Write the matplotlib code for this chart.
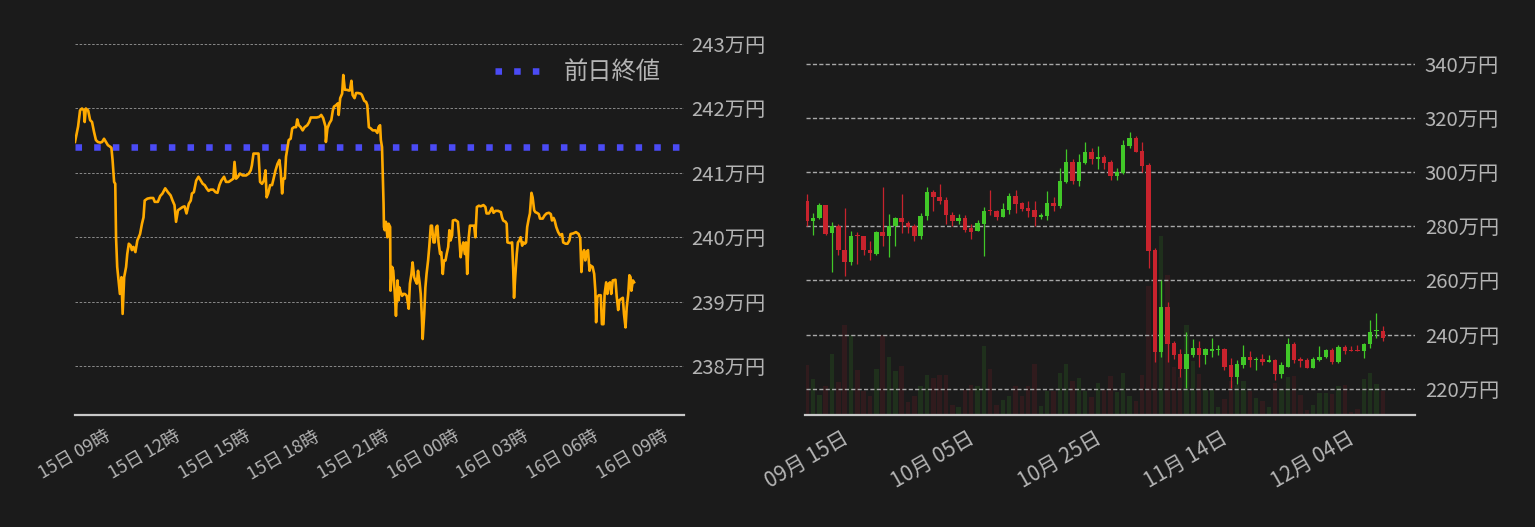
import matplotlib
matplotlib.use("Agg")
import matplotlib.pyplot as plt
import matplotlib.dates as mdates
from matplotlib.ticker import FuncFormatter, MultipleLocator, FixedLocator
import pandas as pd
import numpy as np

# ---------------- data ----------------
intraday_start = "2022-12-15 09:00"
intraday_minutes = [
    0, 8, 13, 18, 23, 25, 28, 34, 39, 44, 49, 54, 59, 65, 70, 75, 80, 85, 90, 94,
    97, 101, 104, 106, 109, 113, 116, 120, 123, 127, 132, 135, 139, 144, 147, 151, 156, 161, 168, 173,
    177, 180, 187, 195, 202, 206, 214, 220, 226, 233, 240, 247, 252, 257, 261, 266, 271, 278, 283, 288,
    294, 299, 302, 307, 313, 319, 325, 330, 335, 340, 345, 350, 357, 363, 368, 373, 378, 385, 390, 397,
    402, 409, 412, 416, 421, 426, 433, 442, 449, 454, 457, 461, 468, 474, 478, 483, 488, 492, 495, 499,
    504, 509, 514, 518, 523, 528, 531, 535, 538, 542, 545, 549, 552, 557, 561, 566, 571, 574, 578, 583,
    588, 593, 600, 605, 609, 616, 624, 631, 636, 641, 647, 648, 652, 657, 662, 666, 669, 674, 679, 681,
    685, 690, 693, 697, 702, 707, 710, 714, 717, 722, 726, 731, 738,
    741, 747, 752, 755, 759, 764, 769, 776, 781, 784, 788, 790, 793, 797, 798, 800, 803, 807, 810, 814,
    815, 819, 822, 826, 829, 833, 836, 838, 841, 845, 848, 852, 857, 862, 865, 869, 872, 876, 879, 883,
    886, 890, 893, 896, 898, 902, 905, 908, 912, 915, 919, 922, 926, 929, 933, 936, 939, 943, 946, 950,
    953, 957, 960, 964, 967, 970, 974, 976, 982, 989, 993, 996, 1000, 1003, 1007, 1010, 1013, 1017, 1020, 1026,
    1031, 1034, 1038, 1043, 1048, 1055, 1060, 1063, 1069, 1074, 1077, 1081, 1086, 1093, 1100, 1103, 1106, 1112, 1115, 1117,
    1124, 1129, 1132, 1134, 1137, 1141, 1144, 1148, 1151, 1155, 1158, 1162, 1165, 1168, 1172, 1175, 1179, 1182, 1186, 1189,
    1193, 1198, 1201, 1208, 1213, 1218, 1224, 1229, 1232, 1236, 1239, 1243, 1248, 1253, 1258, 1261, 1267, 1272, 1277, 1280,
    1287, 1294, 1301, 1305, 1308, 1311, 1315, 1318, 1322, 1325, 1329, 1332, 1337, 1341, 1344, 1346, 1349, 1353, 1358, 1361,
    1365, 1368, 1372, 1375, 1379, 1382, 1385, 1389, 1396, 1399, 1403, 1406, 1410, 1415, 1418, 1422, 1425, 1429, 1432, 1435,
    1437, 1441, 1444,
]
intraday_price = [
    241.48, 241.72, 241.97, 242.00, 241.97, 241.79, 242.00, 241.97, 241.82, 241.79, 241.64, 241.51, 241.48, 241.47, 241.48, 241.53, 241.48, 241.43, 241.41, 241.39,
    241.20, 240.86, 240.83, 240.00, 239.54, 239.30, 239.12, 239.38, 238.81, 239.38, 239.54, 239.74, 239.90, 239.87, 239.80, 239.85, 239.77, 239.95, 240.05, 240.21,
    240.31, 240.57, 240.60, 240.61, 240.61, 240.55, 240.55, 240.64, 240.68, 240.76, 240.70, 240.65, 240.57, 240.50, 240.24, 240.42, 240.44, 240.47, 240.48, 240.37,
    240.52, 240.57, 240.68, 240.70, 240.88, 240.94, 240.88, 240.83, 240.81, 240.76, 240.72, 240.74, 240.74, 240.70, 240.69, 240.81, 240.88, 240.94, 240.86, 240.86,
    240.88, 240.91, 241.17, 240.91, 240.94, 240.99, 240.96, 240.96, 240.99, 241.04, 241.12, 241.30, 241.30, 241.30, 240.86, 240.83, 240.88, 241.04, 240.62, 240.68,
    240.81, 240.81, 240.94, 241.04, 241.14, 241.20, 241.04, 240.68, 240.91, 240.91, 241.25, 241.40, 241.51, 241.53, 241.69, 241.71, 241.71, 241.83, 241.74, 241.71,
    241.66, 241.71, 241.74, 241.79, 241.86, 241.86, 241.86, 241.87, 241.90, 241.85, 241.72, 241.48, 241.69, 241.77, 241.82, 241.97, 242.03, 242.05, 242.08, 241.90,
    242.16, 242.23, 242.52, 242.29, 242.29, 242.28, 242.28, 242.43, 242.21, 242.16, 242.24, 242.24, 242.23,
    242.21, 242.12, 242.10, 242.05, 241.71, 241.69, 241.66, 241.66, 241.62, 241.71, 241.74, 241.51, 241.40, 240.52, 240.16, 240.11, 240.24, 240.00, 240.21, 240.16,
    239.17, 239.54, 239.48, 239.12, 238.78, 239.33, 239.02, 239.22, 239.15, 239.09, 239.12, 239.12, 239.09, 238.89, 239.28, 239.43, 239.61, 239.38, 239.33, 239.28,
    239.48, 239.30, 239.12, 238.76, 238.42, 238.81, 239.22, 239.43, 239.64, 239.85, 240.18, 240.18, 239.92, 239.92, 240.16, 240.18, 239.92, 239.74, 239.77, 239.43,
    239.64, 239.64, 239.74, 239.85, 240.11, 239.95, 240.03, 240.26, 240.27, 240.24, 239.95, 239.69, 239.85, 239.92, 239.74, 239.92, 239.43, 240.00, 240.18, 240.18,
    240.18, 240.00, 240.47, 240.49, 240.48, 240.50, 240.47, 240.37, 240.37, 240.42, 240.46, 240.38, 240.41, 240.41, 240.39, 240.31, 240.26, 240.24, 240.21, 239.92,
    239.91, 239.92, 239.48, 239.06, 239.38, 239.74, 239.92, 239.95, 240.00, 239.87, 239.92, 239.90, 239.92, 240.16, 240.29, 240.37, 240.69, 240.62, 240.42, 240.39,
    240.38, 240.36, 240.29, 240.29, 240.34, 240.37, 240.38, 240.36, 240.26, 240.30, 240.26, 240.16, 240.08, 240.03, 240.05, 239.92, 239.90, 239.90, 239.95, 240.05,
    240.06, 240.08, 240.05, 239.98, 239.46, 239.74, 239.80, 239.64, 239.77, 239.80, 239.48, 239.56, 239.54, 239.43, 239.17, 238.68, 239.07, 239.10, 239.10, 238.65,
    238.65, 239.12, 239.30, 239.12, 239.28, 239.30, 239.12, 239.33, 239.34, 239.09, 238.87, 239.02, 239.04, 239.06, 238.81, 238.60, 238.91, 239.12, 239.41, 239.38,
    239.17, 239.33, 239.30,
]
prev_close = 241.4
legend_label = "前日終値"

daily_start = "2022-09-15"
opens = [
    289.43, 282.05, 282.92, 287.95, 277.38, 279.97, 271.36, 266.69, 276.53, 276.53,
    271.36, 269.89, 278.00, 276.28, 280.09, 283.16, 281.32, 280.09, 276.28, 283.65,
    292.75, 290.90, 289.80, 284.27, 282.05, 283.16, 279.23, 278.37, 280.95, 285.74,
    285.74, 283.53, 286.10, 291.27, 288.70, 286.85, 286.10, 283.53, 283.90, 288.70,
    287.60, 296.40, 303.81, 296.80, 303.44, 307.50, 304.90, 305.65, 303.81, 298.65,
    299.75, 309.70, 312.66, 307.86, 302.70, 271.36, 233.40, 250.35, 237.07, 232.65,
    227.12, 232.28, 234.87, 232.28, 233.76, 234.13, 234.50, 228.60, 224.50, 228.60,
    231.55, 230.44, 230.80, 229.70, 230.44, 225.30, 228.20, 236.70, 230.80, 230.44,
    227.50, 230.44, 231.90, 234.13, 229.70, 235.23, 234.13, 234.13, 233.76, 236.34,
    241.50, 241.50,
]
closes = [
    282.05, 283.16, 287.95, 277.26, 279.97, 271.12, 266.69, 276.53, 276.30, 271.12,
    270.00, 278.00, 276.28, 280.09, 283.16, 281.44, 279.60, 276.28, 283.90, 292.75,
    290.66, 289.43, 284.00, 282.05, 283.16, 278.74, 278.00, 281.32, 285.74, 285.50,
    283.53, 286.48, 291.27, 288.33, 286.48, 285.74, 283.53, 284.27, 288.70, 287.60,
    296.80, 303.81, 296.80, 303.81, 307.50, 304.90, 305.65, 303.44, 298.65, 300.12,
    310.08, 312.66, 307.50, 302.33, 271.00, 233.40, 250.35, 236.70, 232.28, 227.12,
    232.65, 234.87, 232.28, 234.50, 234.50, 234.50, 228.20, 224.50, 228.96, 231.55,
    230.44, 230.80, 229.70, 230.44, 225.30, 228.60, 236.70, 230.44, 230.07, 227.50,
    230.80, 231.90, 234.13, 229.70, 235.23, 233.76, 233.76, 233.76, 236.70, 241.10,
    241.76, 238.92,
]
highs = [
    292.00, 285.00, 288.70, 287.95, 281.69, 280.95, 286.85, 278.37, 278.00, 276.53,
    274.70, 278.37, 294.59, 284.60, 283.50, 292.00, 282.05, 280.95, 285.00, 294.59,
    293.50, 295.70, 290.90, 285.25, 284.60, 284.27, 280.95, 282.40, 287.20, 293.50,
    286.10, 288.70, 292.38, 293.50, 289.06, 289.43, 289.43, 285.00, 293.10, 290.90,
    301.60, 308.60, 304.90, 306.80, 311.20, 308.97, 309.70, 306.40, 304.55, 301.60,
    311.90, 314.87, 313.40, 311.20, 303.44, 272.10, 260.30, 252.20, 237.80, 234.50,
    241.10, 238.20, 237.80, 234.87, 238.60, 236.30, 234.87, 231.20, 230.44, 236.00,
    233.76, 231.90, 233.00, 232.28, 230.80, 229.70, 238.60, 237.40, 231.90, 231.20,
    231.55, 235.60, 234.50, 234.87, 236.30, 235.97, 235.60, 236.30, 237.07, 245.56,
    248.14, 243.00,
]
lows = [
    279.97, 276.90, 282.70, 276.90, 263.00, 269.27, 261.78, 265.59, 265.96, 269.50,
    267.43, 269.27, 272.60, 268.50, 272.60, 277.40, 277.40, 274.40, 275.20, 282.50,
    285.50, 288.08, 280.95, 279.97, 280.95, 277.76, 275.40, 278.13, 268.90, 284.00,
    282.40, 283.53, 284.60, 285.00, 285.74, 283.53, 280.21, 282.80, 282.40, 285.74,
    286.85, 296.07, 295.70, 294.96, 303.07, 303.07, 301.20, 301.20, 297.17, 297.17,
    299.40, 308.97, 307.50, 300.12, 264.70, 229.70, 231.55, 229.70, 230.80, 224.50,
    220.10, 231.55, 228.20, 228.96, 231.90, 232.28, 226.75, 220.10, 221.60, 227.50,
    228.20, 226.75, 228.60, 229.70, 223.40, 223.80, 228.20, 229.33, 227.90, 227.50,
    227.50, 230.07, 231.18, 228.96, 229.33, 233.00, 233.76, 233.76, 231.18, 234.87,
    238.92, 237.80,
]
volumes = [
    150, 108, 60, 87, 183, 100, 270, 240, 135, 73,
    57, 138, 240, 174, 132, 147, 40, 57, 87, 120,
    111, 120, 120, 30, 24, 75, 90, 87, 207, 138,
    30, 45, 57, 87, 57, 87, 153, 27, 72, 72,
    126, 153, 102, 111, 72, 54, 96, 75, 117, 69,
    126, 57, 42, 120, 387, 400, 537, 420, 144, 114,
    270, 162, 123, 75, 75, 24, 48, 102, 90, 102,
    72, 51, 42, 24, 97, 75, 114, 117, 60, 15,
    30, 66, 66, 63, 87, 90, 9, 18, 108, 126,
    93, 72,
]
daily_tick_dates = ["2022-09-15", "2022-10-05", "2022-10-25", "2022-11-14", "2022-12-04"]

# ---------------- style ----------------
plt.rcParams["font.family"] = ["Noto Sans CJK JP", "DejaVu Sans"]
BG = "#1b1b1b"
TXT = "#b4b4b4"
GREEN = "#41c828"
RED = "#c8232d"
W, H = 1535, 527

fig = plt.figure(figsize=(W / 100, H / 100), dpi=100, facecolor=BG)


def rect(x0, y0, x1, y1):
    return [x0 / W, 1 - y1 / H, (x1 - x0) / W, (y1 - y0) / H]


yen_fmt = FuncFormatter(lambda v, p: f"{v:.0f}万円")

# ---------------- left: intraday ----------------
ax1 = fig.add_axes(rect(75, 37, 684, 415))
ax1.set_facecolor(BG)
t0 = pd.Timestamp(intraday_start)
times = t0 + pd.to_timedelta(intraday_minutes, unit="min")
ax1.plot(times, intraday_price, color="#ffaa00", lw=1.9, zorder=3)
ax1.axhline(prev_close, color="#4b4bf5", lw=4.7, ls=(0, (1, 1.86)),
            solid_capstyle="butt", dash_capstyle="butt", label=legend_label, zorder=2)
ax1.set_xlim(t0, t0 + pd.Timedelta(minutes=1573))
ax1.set_ylim(237.24, 243.11)
ax1.yaxis.tick_right()
ax1.yaxis.set_major_locator(MultipleLocator(1))
ax1.yaxis.set_major_formatter(yen_fmt)
ax1.xaxis.set_major_locator(mdates.HourLocator(byhour=range(0, 24, 3)))
ax1.xaxis.set_major_formatter(mdates.DateFormatter("%d日 %H時"))
ax1.grid(axis="y", color="#9a9a9a", ls=(0, (3, 2)), lw=0.6)
ax1.set_axisbelow(True)
ax1.tick_params(axis="both", length=0, colors=TXT)
ax1.tick_params(axis="y", labelsize=14.6, pad=5)
ax1.tick_params(axis="x", labelsize=13, pad=9)
for lab in ax1.get_xticklabels():
    lab.set_rotation(30)
    lab.set_ha("center")
for s in ["top", "left", "right"]:
    ax1.spines[s].set_visible(False)
ax1.spines["bottom"].set_color("#c8c8c8")
ax1.spines["bottom"].set_linewidth(1.6)
leg = ax1.legend(loc="upper right", bbox_to_anchor=(0.977, 0.967), frameon=False,
                 fontsize=17.5, labelcolor=TXT, handlelength=1.8, handletextpad=1.0,
                 borderaxespad=0)

# ---------------- right: daily candles ----------------
dates = pd.date_range(daily_start, periods=len(opens), freq="D")
xd = mdates.date2num(dates)
up = np.array(closes) >= np.array(opens)
cols = np.where(up, GREEN, RED)

axv = fig.add_axes(rect(805.5, 37, 1415, 415))
axv.bar(xd, volumes, width=0.7, color=cols, alpha=0.12, zorder=1)
axv.set_ylim(0, max(volumes) * 378 / 179)
axv.set_axis_off()

ax2 = fig.add_axes(rect(805.5, 37, 1415, 415), sharex=axv)
ax2.patch.set_alpha(0)
o = np.array(opens)
c = np.array(closes)
lo_body = np.minimum(o, c)
h_body = np.maximum(np.abs(c - o), 0.35)
ax2.vlines(xd, lows, highs, colors=cols, lw=0.9, zorder=3)
ax2.bar(xd, h_body, bottom=lo_body, width=0.7, color=cols, zorder=4)
ax2.set_ylim(210.3, 349.9)
ax2.set_xlim(xd[0] - 0.19, xd[0] + 96.1)
ax2.yaxis.tick_right()
ax2.yaxis.set_major_locator(MultipleLocator(20))
ax2.yaxis.set_major_formatter(yen_fmt)
ax2.xaxis.set_major_locator(FixedLocator(mdates.date2num(pd.to_datetime(daily_tick_dates))))
ax2.xaxis.set_major_formatter(mdates.DateFormatter("%m月 %d日"))
ax2.grid(axis="y", color="#a8a8a8", ls=(0, (3, 1.6)), lw=1.0)
ax2.set_axisbelow(True)
ax2.tick_params(axis="both", length=0, colors=TXT)
ax2.tick_params(axis="y", labelsize=14.6, pad=7)
ax2.tick_params(axis="x", labelsize=15, pad=9)
for lab in ax2.get_xticklabels():
    lab.set_rotation(30)
    lab.set_ha("center")
for s in ["top", "left", "right"]:
    ax2.spines[s].set_visible(False)
ax2.spines["bottom"].set_color("#c8c8c8")
ax2.spines["bottom"].set_linewidth(1.6)

fig.savefig("out.png", dpi=100, facecolor=BG)
